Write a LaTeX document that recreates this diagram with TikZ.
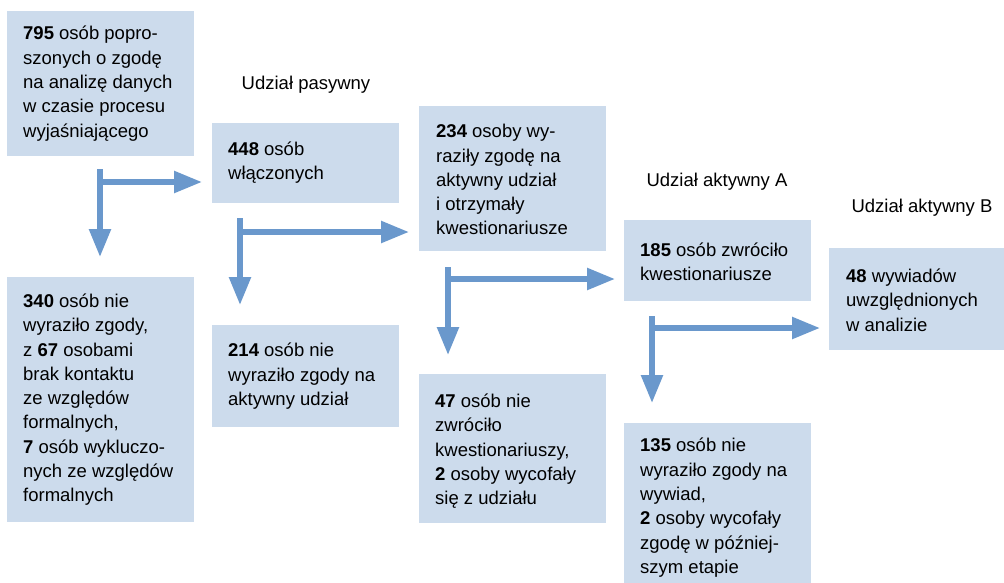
\documentclass[tikz,border=0pt]{standalone}
\usepackage{fontspec}
\setmainfont{Liberation Sans}
\usetikzlibrary{arrows.meta}
\definecolor{boxfill}{HTML}{CCDBEC}
\definecolor{arrowblue}{HTML}{6A98CC}
\begin{document}
\begin{tikzpicture}[x=1pt,y=-1pt,
  box/.style={fill=boxfill, draw=none, anchor=north west, inner sep=0pt},
  txt/.style={anchor=west, align=left, inner sep=0pt, text=black,
    font=\fontsize{18.5}{24.3}\selectfont},
  lbl/.style={inner sep=0pt, text=black, font=\fontsize{18.5}{22}\selectfont},
  arr/.style={draw=arrowblue, line width=5.5pt,
    -{Triangle[length=28pt,width=21pt]}}]
\useasboundingbox (0,0) rectangle (1004,582);
% boxes
\node[box, minimum width=187pt, minimum height=145pt] (b795) at (7,11) {};
\node[box, minimum width=187pt, minimum height=80pt] (b448) at (212,123) {};
\node[box, minimum width=187pt, minimum height=245pt] (b340) at (7,277) {};
\node[box, minimum width=187pt, minimum height=102pt] (b214) at (212,325) {};
\node[box, minimum width=187pt, minimum height=145pt] (b234) at (419,106) {};
\node[box, minimum width=187pt, minimum height=149pt] (b47) at (419,374) {};
\node[box, minimum width=187pt, minimum height=81pt] (b185) at (624,220) {};
\node[box, minimum width=187pt, minimum height=162pt] (b135) at (624,423) {};
\node[box, minimum width=180pt, minimum height=102pt] (b48) at (829,248) {};
% texts
\node[txt] (t795) at ([xshift=16pt]b795.west) {\textbf{795} osób popro-\\szonych o zgodę\\na analizę danych\\w czasie procesu\\wyjaśniającego};
\node[txt] (t448) at ([xshift=16pt,yshift=0.5pt]b448.west) {\textbf{448} osób\\włączonych};
\node[txt] (t340) at ([xshift=16pt]b340.west) {\textbf{340} osób nie\\wyraziło zgody,\\z \textbf{67} osobami\\brak kontaktu\\ze względów\\formalnych,\\\textbf{7} osób wykluczo-\\nych ze względów\\formalnych};
\node[txt] (t214) at ([xshift=16pt]b214.west) {\textbf{214} osób nie\\wyraziło zgody na\\aktywny udział};
\node[txt] (t234) at ([xshift=17pt,yshift=-1pt]b234.west) {\textbf{234} osoby wy-\\raziły zgodę na\\aktywny udział\\i otrzymały\\kwestionariusze};
\node[txt] (t47) at ([xshift=16pt,yshift=-2.5pt]b47.west) {\textbf{47} osób nie\\zwróciło\\kwestionariuszy,\\\textbf{2} osoby wycofały\\się z udziału};
\node[txt] (t185) at ([xshift=16pt,yshift=-1pt]b185.west) {\textbf{185} osób zwróciło\\kwestionariusze};
\node[txt] (t135) at ([xshift=16pt,yshift=-3.5pt]b135.west) {\textbf{135} osób nie\\wyraziło zgody na\\wywiad,\\\textbf{2} osoby wycofały\\zgodę w później-\\szym etapie};
\node[txt] (t48) at ([xshift=17pt,yshift=-1pt]b48.west) {\textbf{48} wywiadów\\uwzględnionych\\w analizie};
% labels
\node[lbl] (l1) at (306,85) {Udział pasywny};
\node[lbl] (l2) at (717,182) {Udział aktywny A};
\node[lbl] (l3) at (922,208) {Udział aktywny B};
% arrows
\coordinate (s1) at (100,169); \coordinate (j1) at (100,182);
\coordinate (s2) at (240,218); \coordinate (j2) at (240,232);
\coordinate (s3) at (448,267); \coordinate (j3) at (448,279);
\coordinate (s4) at (652,316); \coordinate (j4) at (652,328);
\draw[arr, shorten >=20pt] (s1) -- (s1 |- b340.north);
\draw[arr, shorten >=10pt] (j1) -- (j1 -| b448.west);
\draw[arr, shorten >=20pt] (s2) -- (s2 |- b214.north);
\draw[arr, shorten >=10pt] (j2) -- (j2 -| b234.west);
\draw[arr, shorten >=19pt] (s3) -- (s3 |- b47.north);
\draw[arr, shorten >=9pt] (j3) -- (j3 -| b185.west);
\draw[arr, shorten >=20pt] (s4) -- (s4 |- b135.north);
\draw[arr, shorten >=9pt] (j4) -- (j4 -| b48.west);
\end{tikzpicture}
\end{document}
